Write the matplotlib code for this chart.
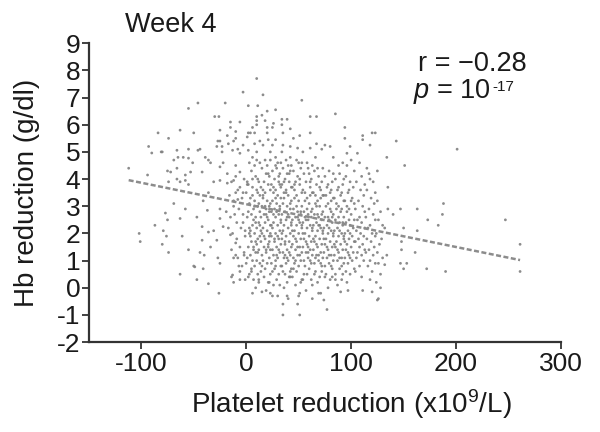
import matplotlib
matplotlib.use("Agg")
import matplotlib.pyplot as plt

plt.rcParams['font.family'] = ['Liberation Sans', 'DejaVu Sans']
plt.rcParams['mathtext.fontset'] = 'custom'
plt.rcParams['mathtext.rm'] = 'Liberation Sans'
plt.rcParams['mathtext.it'] = 'Liberation Sans:italic'
plt.rcParams['axes.unicode_minus'] = False

# ---- data (platelet reduction x10^9/L, Hb reduction g/dl) ----
upper_left_points = [
    (-112, 4.4), (-93, 5.2), (-90, 4.96), (-80, 5.0), (-69, 4.7), (-75, 4.3), (-84, 5.7),
    (-63, 5.8), (-50, 5.7), (-55, 5.1), (-60, 4.8), (-66, 4.4), (-74, 3.9), (-58, 4.15),
    (-63, 3.9), (-44, 5.1), (-36, 4.7), (-51, 4.6), (-30, 6.3), (-26, 6.3), (-25, 5.8),
    (-27, 5.4), (-28, 5.2), (-23, 5.0), (-15, 6.1), (-6, 6.1), (-12, 5.4), (2, 5.7),
    (6, 5.9), (10, 6.3), (26, 6.05), (45, 5.5), (-3, 7.2), (-46, 6.8), (-20, 6.8),
    (2, 6.7), (-55, 6.6), (-74, 5.5), (-15, 5.9), (-10, 5.75), (-18, 5.6), (1, 5.55),
    (-25, 5.4), (-17, 5.3), (-10, 5.5), (-81, 5.0), (-66, 5.06), (-46, 5.06), (-39, 4.8),
    (-23, 5.2), (-13, 5.06), (-8, 5.1), (-3, 5.25), (-6, 4.95), (2, 5.06), (-65, 4.8),
    (-55, 4.77), (10, 7.7), (16, 7.1), (11, 6.7),
]

upper_mid_points = [
    (53, 6.9), (85, 6.4), (61, 6.3), (67, 6.3), (20, 6.5), (28, 6.55), (15, 6.35),
    (18, 6.15), (10, 6.15), (34, 6.2), (39, 6.2), (94, 5.9), (10, 6.0), (20, 5.9),
    (25, 5.9), (4, 5.7), (8, 5.7), (20, 5.7), (34, 6.0), (35, 5.7), (42, 5.85), (61, 5.7),
    (111, 5.6), (120, 5.7), (51, 5.6), (94, 5.5), (13, 5.4), (21, 5.45), (28, 5.45),
    (8, 5.3), (16, 5.25), (25, 5.25), (35, 5.25), (42, 5.2), (67, 5.3), (75, 5.25),
    (80, 5.2), (72, 5.1), (61, 5.14), (49, 5.14), (54, 5.0), (34, 5.0), (23, 5.0),
    (10, 5.0), (96, 4.95), (106, 4.95), (99, 5.2), (111, 5.45), (118, 5.25), (123, 5.7),
    (42, 4.8), (83, 4.8), (66, 4.8), (6, 4.8), (28, 4.8), (96, 4.5), (103, 4.3),
    (110, 4.1), (115, 4.4), (121, 3.9), (108, 4.6), (100, 4.7), (92, 4.6), (88, 4.5),
    (117, 4.2), (113, 3.8), (123, 3.5),
]

left_mid_points = [
    (-94, 4.15), (-72, 4.26), (-66, 4.0), (-53, 4.26), (-42, 4.26), (-58, 3.95), (-55, 3.8),
    (-69, 3.1), (-58, 2.9), (-77, 2.75), (-75, 2.5), (-63, 2.55), (-47, 2.6), (-42, 2.25),
    (-36, 2.05), (-37, 2.85), (-41, 3.2), (-36, 3.5), (-25, 2.9), (-25, 2.55), (-22, 2.25),
    (-28, 1.75), (-15, 1.95), (-10, 1.65), (-9, 2.4), (-12, 3.0), (-8, 3.25), (-3, 2.7),
    (-1, 2.1), (-31, 3.9), (-25, 3.95), (-18, 3.85), (-25, 4.45), (-34, 4.6), (-22, 4.6),
    (-10, 4.5), (-6, 4.26), (-12, 3.95), (1, 3.8), (-3, 3.5), (-10, 3.5),
    (-18, 4.2), (-14, 3.9), (-10, 4.1), (-6, 3.7), (-2, 4.0), (2, 3.8), (-16, 3.4),
    (-12, 3.2), (-8, 3.6), (-4, 3.3), (0, 3.5), (3, 3.1), (-19, 2.8), (-15, 2.6),
    (-11, 2.7), (-7, 2.9), (-3, 2.4), (1, 2.6), (-17, 2.2), (-13, 2.0), (-9, 1.8),
    (-5, 2.2), (-1, 1.9), (3, 2.0), (-14, 1.4), (-10, 1.2), (-6, 1.5), (-2, 1.3),
    (2, 1.5), (-4, 0.8), (0, 0.9), (3, 0.5),
]

left_low_points = [
    (-102, 2.0), (-101, 1.7), (-87, 2.3), (-79, 2.1), (-76, 1.9), (-80, 1.6), (-74, 1.3),
    (-61, 1.9), (-55, 1.4), (-63, 0.5), (-49, 0.77), (-41, 0.7), (-47, 0.3), (-36, 0.15),
    (-26, -0.2), (-42, 1.75), (-44, 1.3), (-31, 2.1), (-34, 1.5), (-27, 1.1), (-25, 0.9),
    (-13, 0.47), (-6, 0.3), (-50, 0.8), (-40, 1.2), (-12, 0.2), (-8, 1.1), (-7, 0.8),
    (-6, 0.6), (-1, 0.3), (-12, 1.1), (-2, 1.2), (-14, 0.4),
]

core_points = [
    (5, 4.3), (9, 4.1), (12, 3.9), (6, 3.7), (10, 3.6), (13, 3.4), (4, 3.3), (8, 3.2),
    (11, 3.0), (7, 2.9), (13, 2.8), (5, 2.7), (9, 2.6), (12, 2.4), (6, 2.3), (10, 2.2),
    (4, 2.1), (8, 2.0), (13, 1.9), (11, 1.8), (5, 1.7), (7, 1.5), (12, 1.4), (9, 1.3),
    (4, 1.2), (6, 1.0), (10, 1.0), (13, 0.9), (8, 0.8), (5, 0.6), (11, 0.5), (7, 0.3),
    (12, 0.2), (9, 0.0), (6, 4.0), (11, 3.5), (7, 2.5), (10, 1.6),
    (15, 4.4), (19, 4.2), (22, 4.1), (17, 3.9), (21, 3.8), (14, 3.7), (23, 3.6), (18, 3.5),
    (16, 3.3), (20, 3.2), (23, 3.1), (15, 3.0), (19, 2.9), (22, 2.8), (17, 2.7), (14, 2.6),
    (21, 2.5), (18, 2.4), (23, 2.3), (16, 2.2), (20, 2.1), (15, 2.0), (22, 1.9), (18, 1.8),
    (14, 1.7), (21, 1.6), (17, 1.5), (23, 1.4), (19, 1.3), (15, 1.2), (22, 1.1), (16, 1.0),
    (20, 0.9), (18, 0.7), (14, 0.6), (23, 0.5), (17, 0.4), (21, 0.2), (19, -0.1), (16, 3.4),
    (20, 2.6), (22, 1.7),
    (25, 4.3), (29, 4.4), (32, 4.2), (27, 4.0), (31, 3.9), (24, 3.8), (33, 3.7), (28, 3.6),
    (26, 3.5), (30, 3.4), (33, 3.3), (25, 3.2), (29, 3.1), (32, 3.0), (27, 2.9), (24, 2.8),
    (31, 2.7), (28, 2.6), (33, 2.5), (26, 2.4), (30, 2.3), (25, 2.2), (32, 2.1), (28, 2.0),
    (24, 1.9), (31, 1.8), (27, 1.7), (33, 1.6), (29, 1.5), (25, 1.4), (32, 1.3), (26, 1.2),
    (30, 1.1), (28, 1.0), (24, 0.9), (33, 0.8), (27, 0.7), (31, 0.5), (29, 0.3), (26, 0.1),
    (30, -0.3), (32, 3.8), (26, 2.7), (30, 1.9), (28, 0.8),
    (35, 4.4), (39, 4.2), (42, 4.3), (37, 4.0), (41, 3.9), (34, 3.8), (43, 3.7), (38, 3.6),
    (36, 3.5), (40, 3.4), (43, 3.2), (35, 3.1), (39, 3.0), (42, 2.9), (37, 2.8), (34, 2.7),
    (41, 2.6), (38, 2.5), (43, 2.4), (36, 2.3), (40, 2.2), (35, 2.1), (42, 2.0), (38, 1.9),
    (34, 1.8), (41, 1.7), (37, 1.6), (43, 1.5), (39, 1.4), (35, 1.3), (42, 1.2), (36, 1.1),
    (40, 1.0), (38, 0.9), (34, 0.8), (43, 0.7), (37, 0.5), (41, 0.4), (39, 0.2), (36, 0.0),
    (40, -0.4), (36, 3.9), (40, 2.7), (37, 1.2), (42, 0.6),
    (45, 4.3), (49, 4.1), (52, 4.4), (47, 3.9), (51, 3.8), (44, 3.7), (53, 3.5), (48, 3.4),
    (46, 3.3), (50, 3.2), (53, 3.0), (45, 2.9), (49, 2.8), (52, 2.7), (47, 2.6), (44, 2.5),
    (51, 2.4), (48, 2.3), (53, 2.2), (46, 2.1), (50, 2.0), (45, 1.9), (52, 1.8), (48, 1.7),
    (44, 1.6), (51, 1.5), (47, 1.4), (53, 1.3), (49, 1.2), (45, 1.1), (52, 1.0), (46, 0.9),
    (50, 0.8), (48, 0.6), (44, 0.4), (53, 0.3), (47, 0.1), (51, -0.2), (49, -0.6), (46, 3.6),
    (50, 2.5), (47, 1.0),
    (55, 4.2), (59, 4.4), (62, 4.0), (57, 3.9), (61, 3.7), (54, 3.6), (63, 3.5), (58, 3.3),
    (56, 3.2), (60, 3.1), (63, 2.9), (55, 2.8), (59, 2.7), (62, 2.6), (57, 2.5), (54, 2.4),
    (61, 2.3), (58, 2.2), (63, 2.1), (56, 2.0), (60, 1.9), (55, 1.8), (62, 1.7), (58, 1.6),
    (54, 1.5), (61, 1.4), (57, 1.3), (63, 1.2), (59, 1.1), (55, 1.0), (62, 0.9), (56, 0.8),
    (60, 0.7), (58, 0.5), (54, 0.3), (63, 0.1), (57, -0.1), (61, 3.4), (56, 2.6), (59, 1.5),
    (65, 4.3), (69, 4.1), (72, 3.9), (67, 3.8), (71, 3.6), (64, 3.5), (73, 3.4), (68, 3.2),
    (66, 3.1), (70, 3.0), (73, 2.8), (65, 2.7), (69, 2.6), (72, 2.5), (67, 2.4), (64, 2.3),
    (71, 2.2), (68, 2.1), (73, 2.0), (66, 1.9), (70, 1.8), (65, 1.7), (72, 1.6), (68, 1.5),
    (64, 1.4), (71, 1.3), (67, 1.2), (73, 1.1), (69, 1.0), (65, 0.9), (72, 0.8), (66, 0.6),
    (70, 0.4), (68, 0.2), (71, -0.2), (67, 3.0), (70, 2.3), (66, 1.1),
    (75, 4.1), (79, 4.3), (82, 3.9), (77, 3.7), (81, 3.6), (74, 3.4), (83, 3.3), (78, 3.1),
    (76, 3.0), (80, 2.9), (83, 2.7), (75, 2.6), (79, 2.5), (82, 2.4), (77, 2.3), (74, 2.2),
    (81, 2.1), (78, 2.0), (83, 1.9), (76, 1.8), (80, 1.7), (75, 1.6), (82, 1.5), (78, 1.4),
    (74, 1.3), (81, 1.2), (77, 1.1), (83, 1.0), (79, 0.9), (75, 0.8), (82, 0.7), (76, 0.5),
    (80, 0.3), (78, 0.0), (81, 2.8),
    (85, 4.0), (89, 4.2), (92, 3.8), (87, 3.6), (91, 3.5), (84, 3.3), (93, 3.2), (88, 3.0),
    (86, 2.9), (90, 2.8), (93, 2.6), (85, 2.5), (89, 2.4), (92, 2.3), (87, 2.2), (84, 2.1),
    (91, 2.0), (88, 1.9), (93, 1.8), (86, 1.7), (90, 1.6), (85, 1.5), (92, 1.4), (88, 1.3),
    (84, 1.2), (91, 1.1), (87, 1.0), (93, 0.9), (89, 0.7), (85, 0.5), (91, 0.3), (87, 0.1),
    (95, 4.1), (99, 3.9), (102, 3.7), (97, 3.5), (101, 3.3), (94, 3.2), (103, 3.1), (98, 2.9),
    (96, 2.8), (100, 2.7), (103, 2.5), (95, 2.4), (99, 2.3), (102, 2.2), (97, 2.1), (94, 2.0),
    (101, 1.9), (98, 1.8), (103, 1.7), (96, 1.6), (100, 1.5), (95, 1.4), (102, 1.3), (98, 1.2),
    (94, 1.1), (101, 1.0), (97, 0.9), (103, 0.7), (99, 0.5), (96, 0.2),
    (105, 3.9), (109, 3.6), (112, 3.4), (107, 3.2), (111, 3.0), (104, 2.9), (113, 2.8),
    (108, 2.6), (106, 2.5), (110, 2.4), (113, 2.2), (105, 2.1), (109, 2.0), (112, 1.9),
    (107, 1.8), (104, 1.7), (111, 1.6), (108, 1.5), (113, 1.4), (106, 1.3), (110, 1.2),
    (105, 1.1), (112, 1.0), (108, 0.8), (104, 0.6), (110, 0.4),
    (115, 3.6), (119, 3.3), (122, 3.1), (117, 2.9), (121, 2.7), (114, 2.6), (123, 2.5),
    (118, 2.3), (116, 2.2), (120, 2.0), (123, 1.9), (115, 1.8), (119, 1.7), (122, 1.5),
    (117, 1.4), (114, 1.3), (121, 1.2), (118, 1.0), (123, 0.9), (116, 0.8), (120, 0.6),
    (118, 0.3),
    (125, 3.2), (128, 2.8), (126, 2.5), (130, 2.3), (124, 2.0), (129, 1.8), (127, 1.6),
    (125, 1.3), (130, 1.1), (126, 0.9), (128, 0.5), (124, 0.2),
]

dense_core_points = [
    (3, 4.6), (8, 4.5), (1, 3.9), (6, 3.4), (2, 2.8), (9, 2.4), (4, 1.9), (7, 1.4), (1, 1.1),
    (5, 0.7), (8, 3.0), (3, 2.2), (10, 4.7), (2, 0.4), (9, 1.7),
    (13, 4.6), (18, 4.7), (11, 4.0), (16, 3.6), (12, 3.1), (19, 2.7), (14, 2.1), (17, 1.9),
    (11, 1.3), (15, 0.8), (18, 3.0), (13, 2.3), (20, 4.5), (12, 0.3), (19, 1.4),
    (23, 4.7), (28, 4.5), (21, 4.2), (26, 3.7), (22, 3.0), (29, 2.8), (24, 2.3), (27, 1.8),
    (21, 1.5), (25, 0.6), (28, 3.3), (23, 2.0), (30, 4.6), (22, 0.2), (29, 1.2),
    (33, 4.6), (38, 4.7), (31, 4.1), (36, 3.3), (32, 2.9), (39, 2.6), (34, 2.0), (37, 1.7),
    (31, 1.4), (35, 0.6), (38, 3.5), (33, 2.4), (40, 4.5), (32, 0.1), (39, 1.1),
    (43, 4.5), (48, 4.7), (41, 4.2), (46, 3.8), (42, 3.1), (49, 2.6), (44, 2.1), (47, 1.8),
    (41, 1.3), (45, 0.7), (48, 3.0), (43, 2.3), (50, 4.6), (42, 0.4), (49, 1.5),
    (53, 4.6), (58, 4.6), (51, 4.0), (56, 3.5), (52, 2.8), (59, 2.5), (54, 2.0), (57, 1.7),
    (51, 1.2), (55, 0.5), (58, 2.9), (53, 2.3), (60, 4.2), (52, 0.2), (59, 1.3),
    (63, 4.5), (68, 4.4), (61, 3.9), (66, 3.4), (62, 2.8), (69, 2.3), (64, 1.8), (67, 1.6),
    (61, 1.0), (65, 0.5), (68, 2.7), (63, 2.2), (70, 3.7), (62, 0.3), (69, 1.2),
    (73, 4.4), (78, 3.8), (71, 3.3), (76, 3.4), (72, 2.7), (79, 2.2), (74, 1.8), (77, 1.5),
    (71, 0.9), (75, 0.4), (78, 2.6), (73, 2.1), (80, 3.5), (72, 0.6), (79, 1.2),
    (83, 4.2), (88, 3.7), (81, 3.2), (86, 3.1), (82, 2.6), (89, 2.1), (84, 1.6), (87, 1.4),
    (81, 0.8), (85, 0.3), (88, 2.6), (83, 2.0), (90, 3.4), (82, 0.4), (89, 1.1),
    (93, 4.0), (98, 3.6), (91, 2.9), (96, 3.0), (92, 2.4), (99, 2.0), (94, 1.7), (97, 1.3),
    (91, 0.8), (95, 0.6), (98, 2.5), (93, 1.9), (100, 3.2), (92, 0.5), (99, 1.1),
]

bottom_points = [
    (125, -0.45), (77, -0.8), (120, -0.15), (111, -0.1), (74, -0.45), (63, -0.4), (51, -1.0),
    (35, -1.0), (35, -0.6), (50, -0.3), (6, -0.2), (15, -0.15), (25, -0.3), (69, -0.2),
    (90, -0.15), (97, -0.1), (126, -0.4), (23, -0.2), (39, -0.3),
]

right_points = [
    (135, 2.9), (147, 2.9), (163, 2.9), (188, 3.1), (187, 2.7), (140, 2.7), (173, 2.5),
    (247, 2.5), (183, 2.3), (150, 2.2), (163, 2.1), (132, 2.2), (261, 1.6), (148, 1.7),
    (148, 1.4), (161, 1.3), (134, 1.2), (132, 0.85), (147, 0.9), (153, 0.9), (150, 0.7),
    (172, 0.7), (190, 0.6), (261, 0.6), (128, 0.0), (143, 5.4), (201, 5.1), (134, 4.8),
    (151, 4.5), (125, 4.3), (118, 4.0), (135, 3.7),
]

# fitted regression line end points
fit_x = [-112, 261]
fit_y = [3.96, 1.02]

x_ticks = [-100, 0, 100, 200, 300]
y_ticks = list(range(-2, 10))

title_text = "Week 4"
r_text = "r = \u22120.28"
p_main_text = r"$\mathit{p}$ = 10"
p_exp_text = "-17"
x_label = r"Platelet reduction (x10$^{\mathregular{9}}$/L)"
y_label = "Hb reduction (g/dl)"

all_points = (upper_left_points + upper_mid_points + left_mid_points + left_low_points
              + core_points + dense_core_points + bottom_points + right_points)
px = [p[0] for p in all_points]
py = [p[1] for p in all_points]

fig = plt.figure(figsize=(6.0, 4.32), dpi=100)
ax = fig.add_axes([0.148, 0.208, 0.787, 0.692])

ax.scatter(px, py, s=4.0, c='#808080', edgecolors='none', alpha=0.9, zorder=2)
ax.plot(fit_x, fit_y, color='#8c8c8c', lw=1.8, dashes=(2.0, 1.0), zorder=3)

ax.set_xlim(-150, 300)
ax.set_ylim(-2, 9)
ax.set_xticks(x_ticks)
ax.set_yticks(y_ticks)
ax.tick_params(axis='both', direction='out', length=5, width=1.3, color='#333333',
               labelsize=19, labelcolor='#1a1a1a')
ax.tick_params(axis='x', pad=2)
ax.tick_params(axis='y', pad=1)
for s in ['top', 'right']:
    ax.spines[s].set_visible(False)
for s in ['left', 'bottom']:
    ax.spines[s].set_linewidth(1.6)
    ax.spines[s].set_color('#333333')

ax.set_xlabel(x_label, fontsize=20, color='#1a1a1a')
ax.xaxis.label.set_va('center')
ax.xaxis.set_label_coords(0.557, -0.207)
ax.set_ylabel(y_label, fontsize=20, color='#1a1a1a')
ax.yaxis.label.set_va('center')
ax.yaxis.set_label_coords(-0.131, 0.5)

fig.text(125 / 600, 1 - 25 / 432, title_text, fontsize=19.5, color='#1a1a1a',
         ha='left', va='center')
fig.text(418 / 600, 1 - 64 / 432, r_text, fontsize=19.5, color='#1a1a1a',
         ha='left', va='center')
fig.text(413 / 600, 1 - 91 / 432, p_main_text, fontsize=19.5, color='#1a1a1a',
         ha='left', va='center')
fig.text(492 / 600, 1 - 87 / 432, p_exp_text, fontsize=11, color='#1a1a1a',
         ha='left', va='center')

fig.savefig("out.png", dpi=100)
